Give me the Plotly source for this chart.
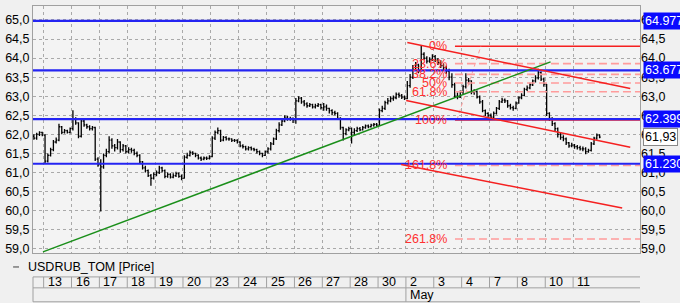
import plotly.graph_objects as go

# ---------------- data ----------------
day_labels = ["13", "16", "17", "18", "19", "20", "23", "24", "25", "26",
              "27", "28", "30", "2", "3", "4", "7", "8", "10", "11"]
month_labels = {"2": "May"}
bars_per_day = 10
prev_day_bars = 4

first_open = 61.95
close_days = [
    [61.90, 62.00, 62.05, 61.98],
    [61.30, 61.45, 61.60, 61.80, 61.85, 62.20, 62.05, 62.10, 62.05, 62.15],
    [62.40, 62.30, 61.95, 62.35, 62.25, 62.20, 62.15, 62.18, 61.35, 61.20],
    [61.15, 61.45, 61.55, 61.85, 61.70, 61.65, 61.80, 61.60, 61.70, 61.55],
    [61.60, 61.58, 61.50, 61.45, 61.28, 61.12, 61.05, 60.92, 60.85, 60.95],
    [61.00, 61.12, 61.05, 60.90, 60.95, 60.88, 60.92, 60.97, 60.90, 60.85],
    [61.40, 61.45, 61.53, 61.50, 61.45, 61.38, 61.35, 61.38, 61.37, 61.42],
    [61.90, 62.05, 62.10, 61.85, 61.92, 61.88, 61.88, 61.84, 61.84, 61.80],
    [61.70, 61.68, 61.62, 61.65, 61.62, 61.60, 61.55, 61.50, 61.45, 61.55],
    [61.62, 61.75, 61.88, 62.10, 62.25, 62.35, 62.45, 62.40, 62.42, 62.38],
    [62.88, 62.95, 62.85, 62.80, 62.75, 62.78, 62.72, 62.75, 62.78, 62.70],
    [62.72, 62.68, 62.62, 62.57, 62.55, 62.42, 62.18, 62.02, 62.12, 62.15],
    [62.05, 62.10, 62.15, 62.12, 62.18, 62.22, 62.20, 62.24, 62.26, 62.24],
    [62.62, 62.68, 62.83, 62.88, 62.94, 62.96, 63.05, 63.02, 62.98, 62.94],
    [63.28, 63.50, 63.75, 63.82, 63.67, 64.10, 64.00, 63.92, 63.96, 64.04],
    [63.95, 63.88, 63.80, 63.75, 63.65, 63.50, 63.30, 63.00, 62.98, 63.10],
    [63.25, 63.42, 63.40, 63.10, 63.12, 62.98, 62.85, 62.62, 62.55, 62.50],
    [62.45, 62.55, 62.68, 62.85, 62.90, 62.88, 62.75, 62.70, 62.68, 62.82],
    [62.96, 63.02, 63.18, 63.22, 63.30, 63.40, 63.48, 63.62, 63.45, 63.32],
    [62.55, 62.42, 62.28, 62.15, 62.00, 61.92, 61.88, 61.78, 61.70, 61.72],
    [61.68, 61.65, 61.62, 61.62, 61.55, 61.58, 61.75, 61.90, 61.98, 61.93],
]
high_days = [
    [62.00, 62.04, 62.08, 62.07],
    [62.00, 61.50, 61.65, 61.85, 61.92, 62.28, 62.22, 62.14, 62.12, 62.18],
    [62.63, 62.45, 62.32, 62.40, 62.38, 62.28, 62.24, 62.22, 62.20, 61.40],
    [61.35, 61.50, 61.62, 61.95, 61.90, 61.75, 61.88, 61.82, 61.75, 61.72],
    [61.66, 61.65, 61.62, 61.55, 61.48, 61.30, 61.18, 61.08, 60.96, 61.00],
    [61.05, 61.18, 61.15, 61.08, 61.00, 60.98, 60.98, 61.02, 61.00, 60.95],
    [61.45, 61.52, 61.58, 61.56, 61.52, 61.48, 61.42, 61.42, 61.42, 61.45],
    [61.95, 62.10, 62.18, 62.12, 61.96, 61.95, 61.92, 61.90, 61.88, 61.87],
    [61.82, 61.74, 61.70, 61.69, 61.68, 61.65, 61.62, 61.58, 61.52, 61.58],
    [61.66, 61.80, 61.92, 62.15, 62.32, 62.40, 62.50, 62.48, 62.46, 62.44],
    [62.95, 63.00, 62.98, 62.90, 62.84, 62.82, 62.80, 62.80, 62.82, 62.80],
    [62.82, 62.78, 62.70, 62.66, 62.62, 62.58, 62.45, 62.20, 62.16, 62.20],
    [62.18, 62.16, 62.20, 62.19, 62.22, 62.26, 62.26, 62.28, 62.30, 62.30],
    [62.68, 62.75, 62.88, 62.95, 63.00, 63.02, 63.10, 63.10, 63.06, 63.02],
    [63.40, 63.58, 63.82, 63.90, 63.85, 64.32, 64.15, 64.05, 64.02, 64.10],
    [64.08, 64.00, 63.94, 63.86, 63.80, 63.72, 63.60, 63.35, 63.10, 63.15],
    [63.30, 63.60, 63.48, 63.42, 63.18, 63.15, 63.02, 62.90, 62.65, 62.58],
    [62.55, 62.60, 62.72, 62.90, 62.96, 62.94, 62.90, 62.80, 62.75, 62.86],
    [63.00, 63.08, 63.22, 63.28, 63.35, 63.44, 63.55, 63.72, 63.65, 63.48],
    [62.65, 62.58, 62.45, 62.32, 62.18, 62.05, 61.98, 61.92, 61.80, 61.78],
    [61.75, 61.72, 61.70, 61.68, 61.66, 61.62, 61.80, 61.94, 62.02, 62.00],
]
low_days = [
    [61.86, 61.86, 61.96, 61.95],
    [61.25, 61.26, 61.42, 61.56, 61.76, 61.82, 62.00, 62.02, 62.02, 62.02],
    [62.10, 62.25, 61.90, 61.92, 62.20, 62.15, 62.10, 62.10, 61.30, 61.15],
    [59.98, 61.10, 61.40, 61.50, 61.62, 61.55, 61.60, 61.52, 61.55, 61.50],
    [61.50, 61.52, 61.45, 61.40, 61.22, 61.08, 61.00, 60.88, 60.65, 60.82],
    [60.90, 60.96, 61.00, 60.85, 60.86, 60.84, 60.85, 60.88, 60.86, 60.80],
    [60.84, 61.36, 61.42, 61.46, 61.40, 61.34, 61.30, 61.32, 61.33, 61.34],
    [61.40, 61.85, 62.00, 61.80, 61.82, 61.84, 61.83, 61.80, 61.80, 61.76],
    [61.66, 61.63, 61.58, 61.58, 61.58, 61.56, 61.50, 61.45, 61.40, 61.43],
    [61.50, 61.58, 61.72, 61.85, 62.05, 62.22, 62.32, 62.36, 62.36, 62.30],
    [62.28, 62.84, 62.80, 62.74, 62.70, 62.72, 62.68, 62.68, 62.72, 62.65],
    [62.62, 62.62, 62.55, 62.50, 62.50, 62.38, 62.12, 61.84, 61.98, 62.08],
    [61.76, 61.98, 62.06, 62.08, 62.10, 62.15, 62.16, 62.18, 62.20, 62.20],
    [62.22, 62.58, 62.64, 62.78, 62.84, 62.88, 62.92, 62.96, 62.93, 62.90],
    [62.92, 63.22, 63.45, 63.68, 63.60, 63.65, 63.95, 63.86, 63.88, 63.92],
    [63.90, 63.82, 63.74, 63.68, 63.58, 63.42, 63.22, 62.95, 62.92, 62.95],
    [63.05, 63.20, 63.30, 63.05, 63.04, 62.94, 62.80, 62.58, 62.48, 62.44],
    [62.38, 62.40, 62.52, 62.64, 62.82, 62.82, 62.70, 62.65, 62.62, 62.66],
    [62.80, 62.92, 63.00, 63.14, 63.18, 63.27, 63.36, 63.44, 63.40, 63.25],
    [62.48, 62.35, 62.22, 62.08, 61.92, 61.86, 61.82, 61.72, 61.65, 61.66],
    [61.62, 61.60, 61.58, 61.56, 61.48, 61.52, 61.55, 61.72, 61.86, 61.90],
]

level_values = [64.977, 63.677, 62.399, 61.230]
level_texts = ["64.977", "63.677", "62.399", "61.230"]
last_price = 61.93
last_price_text = "61,93"

# trend line (green) and channel lines (red), in bar-index / price
trend_x = [-0.25, 181.9]
trend_y = [58.92, 63.90]
channel_x = [[130.5, 210.5], [130.1, 210.5], [128.3, 207.6]]
channel_y = [[64.41, 63.20], [62.885, 61.66], [61.21, 60.07]]

fib_high = 64.31
fib_low = 62.38
fib_ratios = [0.0, 0.236, 0.382, 0.5, 0.618, 1.0, 1.618, 2.618]
fib_names = ["0%", "23.6%", "38.2%", "50%", "61.8%", "100%", "161.8%", "261.8%"]
fib_x_start = 147.6
fib_label_x = 145.6
fib_anchor_x = [148.3, 156.9]

x_min, x_max = -3.82, 214.0
y_min, y_max = 58.89, 65.365
y_ticks = [59.0 + 0.5 * i for i in range(13)]

# ---------------- build ----------------
xs, o, h, l, c = [], [], [], [], []
prev = first_open
for d, (cd, hd, ld) in enumerate(zip(close_days, high_days, low_days)):
    base = -prev_day_bars if d == 0 else (d - 1) * bars_per_day
    for i, (cc, hh, ll) in enumerate(zip(cd, hd, ld)):
        xs.append(base + i + 0.5)
        o.append(prev)
        c.append(cc)
        h.append(max(hh, prev, cc))
        l.append(min(ll, prev, cc))
        prev = cc

day_starts = [k * bars_per_day for k in range(len(day_labels))]

FONT = "Liberation Sans, Arial, sans-serif"
BLUE = "#2424f2"
RED = "#f52020"
PINK = "#ff9c9c"
GRID = "#a9a9a9"
FRAME = "#a0a0a0"

fig = go.Figure()

fib_levels = [fib_high - r * (fib_high - fib_low) for r in fib_ratios]
for r, lv in zip(fib_ratios, fib_levels):
    solid = r in (0.0, 1.0)
    fig.add_trace(go.Scatter(
        x=[fib_x_start, x_max], y=[lv, lv], mode="lines",
        line=dict(color=RED if solid else PINK, width=1.6,
                  dash="solid" if solid else "8px,4px"),
        hoverinfo="skip", showlegend=False))
fig.add_trace(go.Scatter(
    x=fib_anchor_x, y=[fib_low, fib_high], mode="lines",
    line=dict(color=PINK, width=1, dash="4px,3px"),
    hoverinfo="skip", showlegend=False))

for lv in level_values:
    fig.add_trace(go.Scatter(
        x=[x_min, x_max], y=[lv, lv], mode="lines",
        line=dict(color=BLUE, width=2.2), hoverinfo="skip", showlegend=False))

fig.add_trace(go.Scatter(
    x=trend_x, y=trend_y, mode="lines",
    line=dict(color="#1a8f1a", width=1.5), hoverinfo="skip", showlegend=False))

for cx, cy in zip(channel_x, channel_y):
    fig.add_trace(go.Scatter(
        x=cx, y=cy, mode="lines",
        line=dict(color=RED, width=1.5), hoverinfo="skip", showlegend=False))

fig.add_trace(go.Ohlc(
    x=xs, open=o, high=h, low=l, close=c, tickwidth=0.4,
    increasing=dict(line=dict(color="#000000", width=1.3)),
    decreasing=dict(line=dict(color="#000000", width=1.3)),
    hoverinfo="skip", showlegend=False, name="USDRUB_TOM [Price]"))

# invisible trace so the right-hand axis is drawn
fig.add_trace(go.Scatter(x=[x_min], y=[y_min], yaxis="y2", mode="markers",
                         marker=dict(opacity=0), hoverinfo="skip",
                         showlegend=False))

annotations = []
for name, lv in zip(fib_names, fib_levels):
    annotations.append(dict(
        x=fib_label_x, y=lv, xref="x", yref="y", text=name, showarrow=False,
        xanchor="right", yanchor="middle",
        font=dict(family=FONT, size=12.5, color="#ff3030")))

for lv, txt in zip(level_values, level_texts):
    annotations.append(dict(
        x=1, y=lv, xref="paper", yref="y", text=txt, showarrow=False,
        xanchor="left", yanchor="middle", xshift=3, bgcolor="#0a0aff",
        borderpad=1, font=dict(family=FONT, size=12.5, color="white")))
annotations.append(dict(
    x=1, y=last_price, xref="paper", yref="y", text=last_price_text,
    showarrow=False, xanchor="left", yanchor="middle", xshift=3,
    bgcolor="white", bordercolor="#888888", borderwidth=1, borderpad=1,
    font=dict(family=FONT, size=12.5, color="black")))

# date panel under the plot
ROW_TOP, ROW_MID, ROW_BOT = -0.0968, -0.1411, -0.1976
shapes = []
for yy in (ROW_TOP, ROW_MID, ROW_BOT):
    shapes.append(dict(type="line", xref="paper", yref="paper",
                       x0=0, x1=1, y0=yy, y1=yy,
                       line=dict(color=FRAME, width=1)))
shapes.append(dict(type="line", xref="paper", yref="paper", x0=0, x1=0,
                   y0=ROW_TOP, y1=ROW_BOT, line=dict(color=FRAME, width=1)))
for ds, lab in zip(day_starts, day_labels):
    shapes.append(dict(type="line", xref="x", yref="paper", x0=ds, x1=ds,
                       y0=ROW_TOP, y1=ROW_MID, line=dict(color=FRAME, width=1)))
    annotations.append(dict(
        x=ds, y=(ROW_TOP + ROW_MID) / 2, xref="x", yref="paper", text=lab,
        showarrow=False, xanchor="left", yanchor="middle", xshift=2,
        font=dict(family=FONT, size=12.5, color="black")))
    if lab in month_labels:
        shapes.append(dict(type="line", xref="x", yref="paper", x0=ds, x1=ds,
                           y0=ROW_MID, y1=ROW_BOT,
                           line=dict(color=FRAME, width=1)))
        annotations.append(dict(
            x=ds, y=(ROW_MID + ROW_BOT) / 2, xref="x", yref="paper",
            text=month_labels[lab], showarrow=False, xanchor="left",
            yanchor="middle", xshift=2,
            font=dict(family=FONT, size=12.5, color="black")))

# legend row
shapes.append(dict(type="line", xref="paper", yref="paper",
                   x0=-0.0328, x1=-0.0230, y0=-0.0565, y1=-0.0565,
                   line=dict(color="#7a7a7a", width=1.5)))
annotations.append(dict(
    x=-0.0115, y=-0.0565, xref="paper", yref="paper",
    text="USDRUB_TOM [Price]", showarrow=False, xanchor="left",
    yanchor="middle", font=dict(family=FONT, size=12.5, color="black")))

axis_font = dict(family=FONT, size=12.5, color="black")
fig.update_layout(
    width=680, height=303,
    margin=dict(l=30, r=40, t=5, b=50),
    paper_bgcolor="#f0f0f0", plot_bgcolor="#f3f3f3",
    separators=",.",
    font=axis_font,
    xaxis=dict(range=[x_min, x_max], tickvals=day_starts,
               showticklabels=False, ticks="", showgrid=True,
               gridcolor=GRID, griddash="dot", gridwidth=1, zeroline=False,
               showline=True, mirror=True, linecolor=FRAME, linewidth=1,
               rangeslider=dict(visible=False), fixedrange=True),
    yaxis=dict(range=[y_min, y_max], tickvals=y_ticks, tickformat=".1f",
               side="left", ticks="", showgrid=True, gridcolor=GRID,
               griddash="dot", gridwidth=1, zeroline=False, showline=True,
               mirror=True, linecolor=FRAME, linewidth=1, tickfont=axis_font,
               fixedrange=True),
    yaxis2=dict(range=[y_min, y_max], tickvals=y_ticks, tickformat=".1f",
                overlaying="y", side="right", ticks="", showgrid=False,
                zeroline=False, tickfont=axis_font, fixedrange=True),
    annotations=annotations,
    shapes=shapes,
    showlegend=False,
)

fig.write_html("out.html")
